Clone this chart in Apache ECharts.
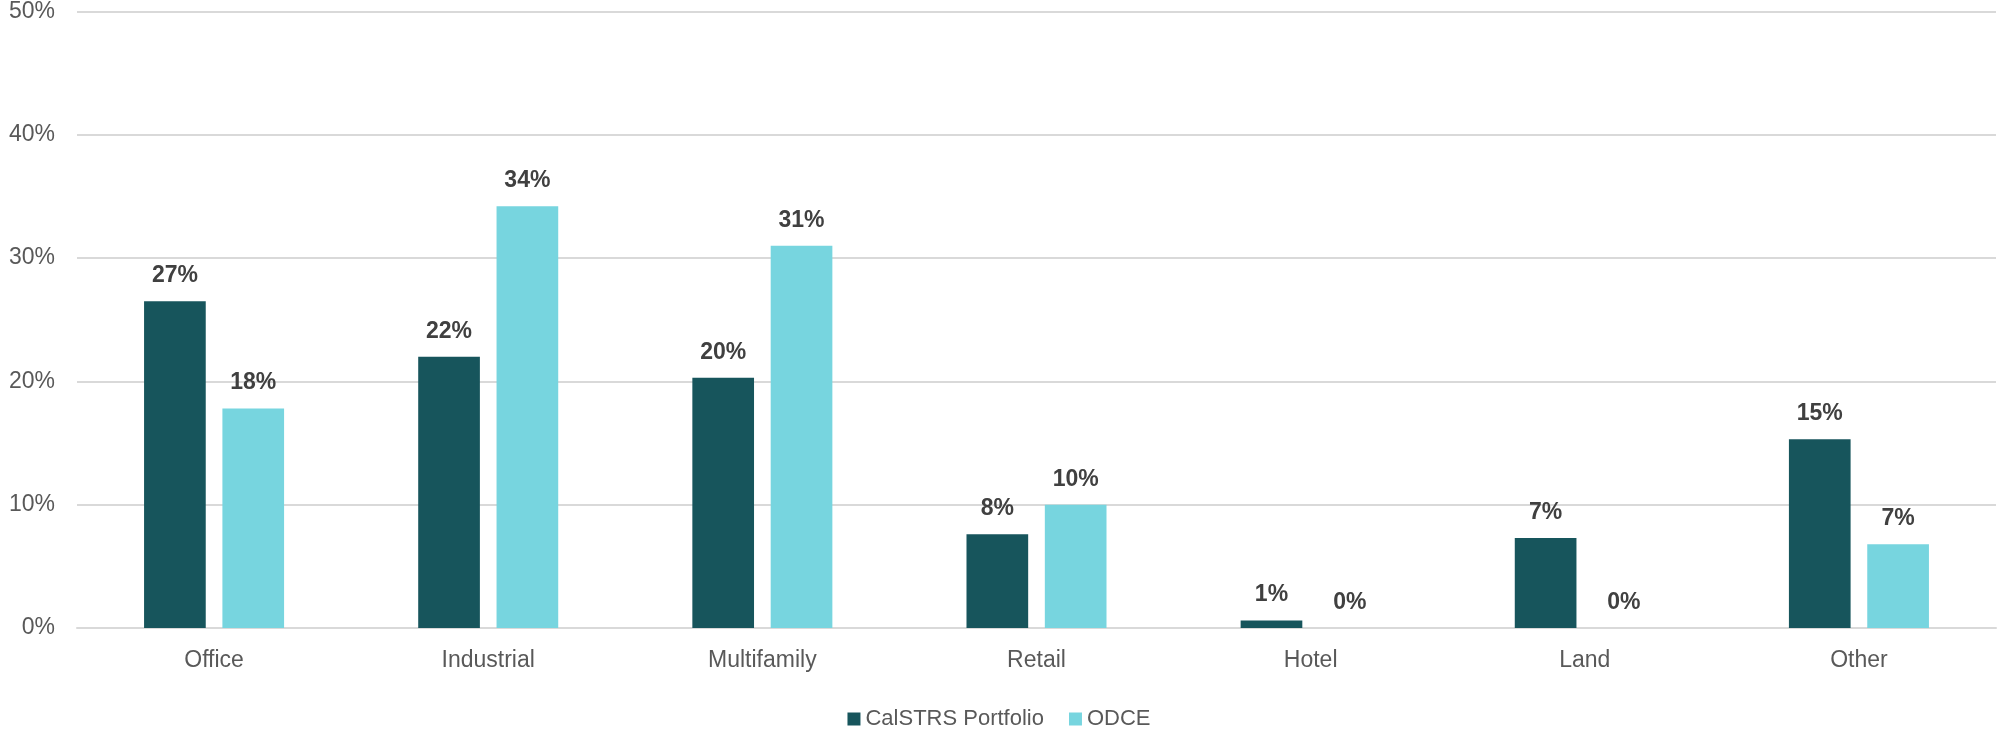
<!DOCTYPE html>
<html>
<head>
<meta charset="utf-8">
<script src="https://cdn.jsdelivr.net/npm/echarts@6/dist/echarts.min.js"></script>
<style>
html,body{margin:0;padding:0;background:#fff;}
#main{width:1998px;height:730px;}
</style>
</head>
<body>
<div id="main"></div>
<script>
const categories = ['Office', 'Industrial', 'Multifamily', 'Retail', 'Hotel', 'Land', 'Other'];
const calstrs = [26.5, 22.0, 20.3, 7.6, 0.6, 7.3, 15.3];
const odce = [17.8, 34.2, 31.0, 10.0, 0, 0, 6.8];
const seriesNames = ['CalSTRS Portfolio', 'ODCE'];
const yTicks = [0, 10, 20, 30, 40, 50];

const FONT = '"Liberation Sans Narrow", "Arial Narrow", "Liberation Sans", sans-serif';
const chart = echarts.init(document.getElementById('main'), null, {renderer: 'canvas'});
const labelCfg = {
  show: true,
  position: 'top',
  distance: 14,
  formatter: p => Math.round(p.value) + '%',
  fontFamily: FONT,
  fontWeight: 'bold',
  fontSize: 23,
  color: '#404040'
};
chart.setOption({
  animation: false,
  backgroundColor: '#fff',
  grid: {left: 77, right: 2, top: 11, bottom: 102},
  legend: {
    bottom: 0,
    left: 'center',
    padding: 0,
    itemWidth: 13,
    itemHeight: 13,
    itemGap: 25,
    icon: 'rect',
    textStyle: {fontFamily: FONT, fontSize: 22, color: '#595959'},
    data: seriesNames
  },
  xAxis: {
    type: 'category',
    data: categories,
    axisLine: {show: true, lineStyle: {color: '#d9d9d9', width: 2}},
    axisTick: {show: false},
    axisLabel: {fontFamily: FONT, fontSize: 23, color: '#595959', margin: 21}
  },
  yAxis: {
    type: 'value',
    min: yTicks[0],
    max: yTicks[yTicks.length - 1],
    interval: 10,
    axisLine: {show: false},
    axisTick: {show: false},
    splitLine: {lineStyle: {color: '#d9d9d9', width: 2}},
    axisLabel: {fontFamily: FONT, fontSize: 23, color: '#595959', margin: 22, formatter: v => v + '%'}
  },
  series: [
    {name: seriesNames[0], type: 'bar', data: calstrs, barWidth: '22.5%', barGap: '27%',
     itemStyle: {color: '#17555c'}, label: labelCfg},
    {name: seriesNames[1], type: 'bar', data: odce, barWidth: '22.5%', barGap: '27%',
     itemStyle: {color: '#77d5df'}, label: labelCfg}
  ]
});
</script>
</body>
</html>
